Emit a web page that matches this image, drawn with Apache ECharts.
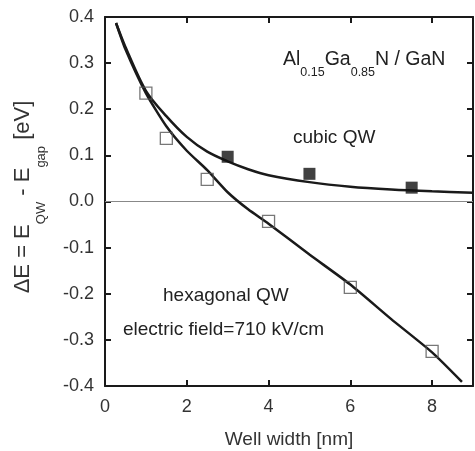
<!DOCTYPE html>
<html>
<head>
<meta charset="utf-8">
<script src="https://cdn.jsdelivr.net/npm/echarts@6/dist/echarts.min.js"></script>
<style>
  html, body { margin: 0; padding: 0; background: #fff; }
  #chart { width: 475px; height: 451px; }
</style>
</head>
<body>
<div id="chart"></div>
<script>
// measured points
const hexPoints = [[1, 0.235], [1.5, 0.137], [2.5, 0.048], [4, -0.043], [6, -0.186], [8, -0.325]];
const cubicPoints = [[3, 0.097], [5, 0.06], [7.5, 0.03]];

// calculated curves
const cubicCurve = [[0.27, 0.387], [0.5, 0.335], [1, 0.24], [1.5, 0.185], [2, 0.14], [2.5, 0.108],
  [3, 0.087], [3.5, 0.07], [4, 0.057], [5, 0.042], [6, 0.032], [7, 0.026], [8, 0.022], [9, 0.019]];
const hexCurve = [[0.27, 0.387], [0.5, 0.33], [1, 0.235], [1.5, 0.163], [2, 0.11], [2.5, 0.068],
  [3, 0.02], [3.5, -0.017], [4, -0.048], [5, -0.115], [6, -0.18], [7, -0.255], [8, -0.327], [8.73, -0.391]];
const zeroLine = [[0, 0], [9, 0]];

const xTicks = [0, 2, 4, 6, 8];
const yTicks = [-0.4, -0.3, -0.2, -0.1, 0.0, 0.1, 0.2, 0.3, 0.4];

const font = 'Liberation Sans, Arial, sans-serif';
const chart = echarts.init(document.getElementById('chart'));

const axisLine = () => ({ onZero: false, lineStyle: { color: '#1a1a1a', width: 2 } });
const axisTick = () => ({ inside: true, length: 6, lineStyle: { color: '#1a1a1a', width: 2 } });

const option = {
  animation: false,
  grid: { left: 105, right: 2, top: 17, bottom: 65, containLabel: false, outerBoundsMode: 'none' },
  xAxis: [
    {
      type: 'value', min: 0, max: 9, interval: 2,
      axisLine: axisLine(), axisTick: axisTick(), splitLine: { show: false },
      axisLabel: { color: '#333', fontSize: 18, fontFamily: font, margin: 12,
        formatter: v => xTicks.includes(v) ? String(v) : '' },
      name: 'Well width [nm]', nameLocation: 'middle', nameGap: 44,
      nameTextStyle: { color: '#333', fontSize: 19, fontFamily: font }
    },
    {
      type: 'value', position: 'top', min: 0, max: 9, interval: 2,
      axisLine: axisLine(), axisTick: axisTick(), axisLabel: { show: false }, splitLine: { show: false }
    }
  ],
  yAxis: [
    {
      type: 'value', min: -0.4, max: 0.4, interval: 0.1,
      axisLine: axisLine(), axisTick: axisTick(), splitLine: { show: false },
      axisLabel: { color: '#333', fontSize: 18, fontFamily: font, margin: 11,
        formatter: v => yTicks.some(t => Math.abs(t - v) < 1e-9) ? v.toFixed(1) : '' }
    },
    {
      type: 'value', position: 'right', min: -0.4, max: 0.4, interval: 0.1,
      axisLine: axisLine(), axisTick: axisTick(), axisLabel: { show: false }, splitLine: { show: false }
    }
  ],
  graphic: [
    {
      type: 'text', x: 23, y: 197, rotation: Math.PI / 2,
      style: {
        text: '{n|ΔE = E}{s|QW}{n| - E}{s|gap}{n| [eV]}',
        align: 'center', verticalAlign: 'middle', fill: '#333', font: '22px ' + font,
        rich: {
          n: { fontSize: 22, fontFamily: font, lineHeight: 50, color: '#333' },
          s: { fontSize: 13, fontFamily: font, lineHeight: 13, verticalAlign: 'bottom', color: '#333' }
        }
      }
    },
    {
      type: 'text', x: 283, y: 60,
      style: {
        text: '{n|Al}{s|0.15}{n|Ga}{s|0.85}{n|N / GaN}',
        align: 'left', verticalAlign: 'middle', fill: '#222', font: '20px ' + font,
        rich: {
          n: { fontSize: 19.5, fontFamily: font, lineHeight: 38, color: '#222' },
          s: { fontSize: 12.5, fontFamily: font, lineHeight: 13, verticalAlign: 'bottom', color: '#222' }
        }
      }
    },
    {
      type: 'text', x: 293, y: 138,
      style: { text: 'cubic QW', fill: '#222', font: '19px ' + font, align: 'left', verticalAlign: 'middle' }
    },
    {
      type: 'text', x: 163, y: 296,
      style: { text: 'hexagonal QW', fill: '#222', font: '19px ' + font, align: 'left', verticalAlign: 'middle' }
    },
    {
      type: 'text', x: 123, y: 330,
      style: { text: 'electric field=710 kV/cm', fill: '#222', font: '19px ' + font, align: 'left', verticalAlign: 'middle' }
    }
  ],
  series: [
    {
      type: 'line', data: zeroLine, symbol: 'none', silent: true, xAxisIndex: 1, yAxisIndex: 1,
      lineStyle: { color: '#888', width: 1 }, z: 1
    },
    {
      name: 'cubic', type: 'line', data: cubicCurve, smooth: 0.3, symbol: 'none',
      lineStyle: { color: '#1a1a1a', width: 2.5 }, z: 3
    },
    {
      name: 'hexagonal', type: 'line', data: hexCurve, smooth: 0.2, symbol: 'none',
      lineStyle: { color: '#1a1a1a', width: 2.5 }, z: 3
    },
    {
      type: 'scatter', data: hexPoints, symbol: 'rect', symbolSize: 12,
      itemStyle: { color: 'rgba(255,255,255,0)', borderColor: '#555', borderWidth: 1.3 }, z: 4
    },
    {
      type: 'scatter', data: cubicPoints, symbol: 'rect', symbolSize: 12,
      itemStyle: { color: '#111' }, z: 4
    }
  ]
};

chart.setOption(option);
</script>
</body>
</html>
